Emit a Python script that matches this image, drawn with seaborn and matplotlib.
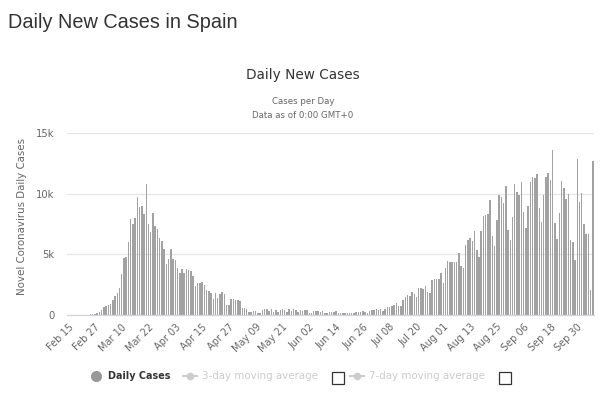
import matplotlib
matplotlib.use("Agg")
import matplotlib.pyplot as plt
import numpy as np
import pandas as pd
import seaborn as sns
from matplotlib.lines import Line2D
from matplotlib.patches import Rectangle

# ---------------- data ----------------
start_date = "2020-02-15"
daily_cases = [
    0, 0, 0, 0, 0, 0, 0, 0, 0, 0,
    80, 80, 100, 170, 280, 420, 660, 770, 800, 900,
    1240, 1570, 1800, 2200, 3400, 4700, 4800, 6000, 7900, 7500,
    8000, 9700, 8900, 9000, 8300, 10800, 7500, 6800, 8400, 7300,
    7100, 6350, 6100, 5400, 4200, 4600, 5400, 4600, 4500, 3900,
    3500, 3800, 3500, 3800, 3700, 3600, 3200, 2400, 2600, 2600,
    2700, 2500, 2100, 2000, 1850, 1300, 1800, 1400, 1750, 1880,
    1700, 830, 830, 1300, 1300, 1200, 1200, 1160, 550, 550,
    470, 280, 280, 300, 300, 200, 150, 400, 470, 470,
    360, 470, 280, 400, 280, 400, 470, 400, 280, 470,
    360, 470, 400, 280, 390, 360, 410, 410, 140, 140,
    330, 330, 360, 250, 330, 140, 200, 250, 250, 250,
    330, 200, 200, 200, 200, 200, 200, 200, 200, 280,
    280, 280, 300, 250, 200, 330, 410, 410, 470, 410,
    470, 360, 520, 630, 690,
    770, 830, 1000, 770, 770, 1240, 1500, 1650, 1600, 1930,
    1700, 1500, 2200, 2200, 2150, 2420, 1930, 1800, 2900, 2970,
    3000, 3000, 3500, 2670, 3900, 4460, 4400, 4400, 4400, 4400,
    5100, 4070, 3850, 5800, 6200, 6330, 6060, 6900, 5370, 4760,
    6900, 8200, 8260, 8300, 9500, 6500, 5700, 7850, 9900, 9700,
    9200, 10600, 7000, 6200, 8070, 10800, 10100, 9900, 11000, 8450,
    7150, 9000, 11000, 11400, 11300, 11600, 8800, 7700, 9900, 11400,
    11700, 11100, 13600, 7600, 6270, 8370, 11050, 10500, 9600, 9940,
    6200, 6000, 4500, 12850, 9340, 10080, 7460, 6680, 6680, 2070,
    12700,
]
tick_labels = ["Feb 15", "Feb 27", "Mar 10", "Mar 22", "Apr 03", "Apr 15",
               "Apr 27", "May 09", "May 21", "Jun 02", "Jun 14", "Jun 26",
               "Jul 08", "Jul 20", "Aug 01", "Aug 13", "Aug 25", "Sep 06",
               "Sep 18", "Sep 30"]
y_ticks = [0, 5000, 10000, 15000]
y_tick_labels = ["0", "5k", "10k", "15k"]

dates = list(pd.date_range(start_date, periods=len(daily_cases)).strftime("%b %d"))
df = pd.DataFrame({"date": dates, "cases": daily_cases})

# ---------------- figure ----------------
W, H = 600, 394
fig = plt.figure(figsize=(W / 100, H / 100), dpi=100)
fig.patch.set_facecolor("white")

L, R, T, B = 67, 594, 133, 315
ax = fig.add_axes([L / W, 1 - B / H, (R - L) / W, (B - T) / H])

sns.barplot(data=df, x="date", y="cases", color="#a2a2a2", saturation=1,
            width=0.66, linewidth=0, edgecolor="none", ax=ax)

n = len(daily_cases)
ax.set_xlim(-0.5, n - 0.5)
ax.set_ylim(0, 15000)
ax.set_yticks(y_ticks)
ax.set_yticklabels(y_tick_labels)
ax.yaxis.grid(True, color="#e6e6e6", linewidth=0.9)
ax.set_axisbelow(True)
for s in ["top", "right", "left"]:
    ax.spines[s].set_visible(False)
ax.spines["bottom"].set_color("#ccd6eb")
ax.spines["bottom"].set_linewidth(0.9)

pos = [dates.index(lbl) for lbl in tick_labels]
ax.set_xticks(pos)
ax.set_xticklabels(tick_labels, rotation=45, ha="right", va="top",
                   rotation_mode="anchor", fontsize=7, color="#666666")
ax.tick_params(axis="x", length=0, pad=5)
ax.tick_params(axis="y", length=0, pad=9, labelsize=7.2, labelcolor="#666666")
ax.set_xlabel("")
ax.set_ylabel("Novel Coronavirus Daily Cases", fontsize=7.4, color="#666666")
ax.yaxis.set_label_coords((27 - L) / (R - L), 0.54)

# ---------------- titles ----------------
fig.text(8 / W, 1 - 22 / H, "Daily New Cases in Spain", fontsize=14.3,
         family="Liberation Sans", color="#333333", ha="left", va="center")
fig.text(303 / W, 1 - 75 / H, "Daily New Cases", fontsize=9.8,
         color="#333333", ha="center", va="center")
fig.text(303 / W, 1 - 101 / H, "Cases per Day", fontsize=6.2,
         color="#666666", ha="center", va="center")
fig.text(303 / W, 1 - 116 / H, "Data as of 0:00 GMT+0", fontsize=6.2,
         color="#666666", ha="center", va="center")

# ---------------- legend ----------------
ly = 1 - 376 / H
fig.add_artist(Line2D([96 / W], [ly], marker="o", markersize=7,
                      color="#999999", linestyle="none"))
fig.text(108 / W, ly, "Daily Cases", fontsize=6.9, fontweight="bold",
         color="#333333", ha="left", va="center")
for x0, txt, bx in [(183, "3-day moving average", 338), (350, "7-day moving average", 505)]:
    fig.add_artist(Line2D([x0 / W, (x0 + 14) / W], [ly, ly], color="#cccccc",
                          linewidth=1.5))
    fig.add_artist(Line2D([(x0 + 7) / W], [ly], marker="o", markersize=4.5,
                          color="#cccccc", linestyle="none"))
    fig.text((x0 + 19) / W, ly, txt, fontsize=7.4,
             color="#cccccc", ha="left", va="center")
    fig.add_artist(Rectangle(((bx - 6) / W, 1 - 384 / H), 12 / W, 12 / H,
                             transform=fig.transFigure, facecolor="white",
                             edgecolor="#333333", linewidth=0.9))

fig.savefig("out.png", dpi=100, facecolor="white")
